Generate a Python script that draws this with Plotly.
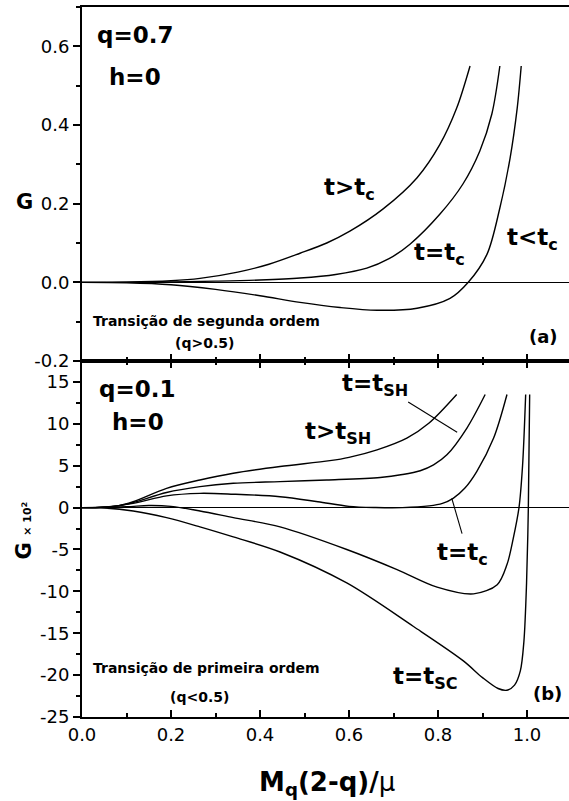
import plotly.graph_objects as go

# ---- panel (a): q = 0.7, h = 0 ----
a_gt_x = [0, 0.1, 0.2, 0.265, 0.35, 0.42, 0.49, 0.55, 0.602, 0.676, 0.753, 0.804, 0.842, 0.872]
a_gt_y = [0, 0.0005, 0.004, 0.01, 0.026, 0.046, 0.074, 0.1, 0.13, 0.186, 0.266, 0.35, 0.443, 0.55]

a_eq_x = [0, 0.2, 0.3, 0.4, 0.49, 0.57, 0.64, 0.69, 0.737, 0.804, 0.856, 0.894, 0.921, 0.939]
a_eq_y = [0, 0.001, 0.003, 0.006, 0.011, 0.02, 0.036, 0.06, 0.097, 0.173, 0.25, 0.334, 0.428, 0.55]

a_lt_x = [0, 0.1, 0.2, 0.3, 0.4, 0.49, 0.58, 0.663, 0.753, 0.827, 0.868, 0.91, 0.939, 0.962, 0.978, 0.987]
a_lt_y = [0, -0.001, -0.006, -0.018, -0.034, -0.051, -0.064, -0.071, -0.066, -0.041, 0, 0.071, 0.189, 0.316, 0.443, 0.55]

# ---- panel (b): q = 0.1, h = 0 (G x 10^2) ----
b_gt_sh_x = [0, 0.03, 0.08, 0.115, 0.19, 0.265, 0.34, 0.445, 0.557, 0.6, 0.663, 0.73, 0.78, 0.842]
b_gt_sh_y = [0, 0, 0.2, 0.7, 2.3, 3.3, 4.1, 4.9, 5.6, 6.0, 6.9, 8.3, 10.1, 13.5]

b_eq_sh_x = [0, 0.03, 0.08, 0.115, 0.19, 0.265, 0.34, 0.445, 0.55, 0.67, 0.72, 0.76, 0.79, 0.82, 0.865, 0.906]
b_eq_sh_y = [0, 0, 0.2, 0.6, 1.8, 2.5, 2.9, 3.1, 3.3, 3.6, 3.95, 4.4, 5.1, 6.3, 9.5, 13.5]

b_eq_c_x = [0, 0.05, 0.115, 0.19, 0.265, 0.34, 0.445, 0.53, 0.6, 0.66, 0.72, 0.78, 0.81, 0.834, 0.86, 0.887, 0.925, 0.955]
b_eq_c_y = [0, 0.05, 0.5, 1.4, 1.7, 1.6, 1.3, 0.7, 0.15, 0.01, 0.0, 0.2, 0.5, 1.1, 2.3, 4.3, 8.3, 13.5]

b_lt_c_x = [0, 0.1, 0.15, 0.2, 0.265, 0.34, 0.445, 0.595, 0.708, 0.798, 0.88, 0.933, 0.955, 0.969, 0.982, 0.99, 0.997]
b_lt_c_y = [0, 0.1, 0.25, 0.15, -0.4, -1.2, -2.3, -5.0, -7.4, -9.5, -10.3, -9.2, -6.8, -3.7, 0, 5, 13.5]

b_eq_sc_x = [0, 0.05, 0.115, 0.19, 0.265, 0.34, 0.445, 0.595, 0.745, 0.857, 0.9, 0.935, 0.955, 0.972, 0.985, 0.993, 0.999, 1.003, 1.006]
b_eq_sc_y = [0, -0.05, -0.4, -1.2, -2.3, -3.5, -5.3, -9.0, -14.2, -18.3, -20.3, -21.6, -21.8, -21.2, -19.5, -16.0, -9.0, 0.0, 13.5]

# pointer lines tying labels to their curves in panel (b)
ptr_sh_x = [0.733, 0.843]
ptr_sh_y = [12.6, 9.0]
ptr_c_x = [0.854, 0.831]
ptr_c_y = [-3.1, 1.1]

# tick labels
x_ticks = [0.0, 0.2, 0.4, 0.6, 0.8, 1.0]
x_ticktext = ["0.0", "0.2", "0.4", "0.6", "0.8", "1.0"]
ya_ticks = [-0.2, 0.0, 0.2, 0.4, 0.6]
ya_ticktext = ["-0.2", "0.0", "0.2", "0.4", "0.6"]
yb_ticks = [-25, -20, -15, -10, -5, 0, 5, 10, 15]
yb_ticktext = ["-25", "-20", "-15", "-10", "-5", "0", "5", "10", "15"]

FONT = "DejaVu Sans"
LINE = dict(color="black", width=1.4)

fig = go.Figure()

for xs, ys in [(a_gt_x, a_gt_y), (a_eq_x, a_eq_y), (a_lt_x, a_lt_y)]:
    fig.add_trace(go.Scatter(x=xs, y=ys, mode="lines", line=dict(shape="spline", smoothing=0.9, **LINE),
                             xaxis="x", yaxis="y", showlegend=False, hoverinfo="skip"))

for xs, ys in [(b_gt_sh_x, b_gt_sh_y), (b_eq_sh_x, b_eq_sh_y), (b_eq_c_x, b_eq_c_y),
               (b_lt_c_x, b_lt_c_y), (b_eq_sc_x, b_eq_sc_y)]:
    fig.add_trace(go.Scatter(x=xs, y=ys, mode="lines", line=dict(shape="spline", smoothing=0.9, **LINE),
                             xaxis="x2", yaxis="y2", showlegend=False, hoverinfo="skip"))

for xs, ys in [(ptr_sh_x, ptr_sh_y), (ptr_c_x, ptr_c_y)]:
    fig.add_trace(go.Scatter(x=xs, y=ys, mode="lines", line=dict(color="black", width=1.1),
                             xaxis="x2", yaxis="y2", showlegend=False, hoverinfo="skip"))

XMAX = 487 / 445
split = (717 - 361) / 710

axis_common = dict(showline=True, linecolor="black", linewidth=2, showgrid=False,
                   tickfont=dict(family=FONT, size=18, color="black"), ticklen=7, tickwidth=1.5,
                   tickcolor="black")

fig.update_layout(
    width=569, height=801,
    margin=dict(l=82, r=0, t=7, b=84),
    paper_bgcolor="white", plot_bgcolor="white",
    font=dict(family=FONT, color="black"),
    xaxis=dict(anchor="y", range=[0, XMAX], tickvals=x_ticks, showticklabels=False,
               ticks="inside", mirror=True, zeroline=False,
               minor=dict(dtick=0.1, tick0=0, ticklen=4, ticks="inside", tickcolor="black"),
               **axis_common),
    yaxis=dict(anchor="x", domain=[split, 1], range=[-0.2, 0.7], tickvals=ya_ticks, ticktext=ya_ticktext,
               ticks="outside", zeroline=True, zerolinecolor="black", zerolinewidth=1.4,
               minor=dict(dtick=0.1, tick0=0, ticklen=4, ticks="outside", tickcolor="black"),
               **axis_common),
    xaxis2=dict(anchor="y2", range=[0, XMAX], tickvals=x_ticks, ticktext=x_ticktext,
                ticks="inside", mirror="ticks", zeroline=False,
                minor=dict(dtick=0.1, tick0=0, ticklen=4, ticks="inside", tickcolor="black"),
                **axis_common),
    yaxis2=dict(anchor="x2", domain=[0, split], range=[-25, 17.5], tickvals=yb_ticks, ticktext=yb_ticktext,
                ticks="outside", zeroline=True, zerolinecolor="black", zerolinewidth=1.4,
                minor=dict(dtick=2.5, tick0=0, ticklen=4, ticks="outside", tickcolor="black"),
                **axis_common),
)

def label(text, x, y, size, xref="x", yref="y", **kw):
    fig.add_annotation(text=text, x=x, y=y, xref=xref, yref=yref, showarrow=False,
                       xanchor="center", yanchor="middle",
                       font=dict(family=FONT, size=size, color="black"), **kw)

# panel (a) texts
label("<b>q=0.7</b>", 0.119, 0.629, 23)
label("<b>h=0</b>", 0.119, 0.522, 23)
label("<b>t>t<sub>c</sub></b>", 0.602, 0.237, 23)
label("<b>t=t<sub>c</sub></b>", 0.804, 0.071, 23)
label("<b>t<t<sub>c</sub></b>", 1.013, 0.11, 23)
label("<b>Transição de segunda ordem</b>", 0.279, -0.099, 14)
label("<b>(q>0.5)</b>", 0.276, -0.153, 14)
label("<b>(a)</b>", 1.036, -0.138, 18)

# panel (b) texts
label("<b>q=0.1</b>", 0.124, 14.1, 23, "x2", "y2")
label("<b>h=0</b>", 0.126, 10.2, 23, "x2", "y2")
label("<b>t=t<sub>SH</sub></b>", 0.658, 14.6, 23, "x2", "y2")
label("<b>t>t<sub>SH</sub></b>", 0.575, 8.85, 23, "x2", "y2")
label("<b>t=t<sub>c</sub></b>", 0.856, -5.5, 23, "x2", "y2")
label("<b>t=t<sub>SC</sub></b>", 0.771, -20.3, 23, "x2", "y2")
label("<b>Transição de primeira ordem</b>", 0.279, -19.1, 14, "x2", "y2")
label("<b>(q<0.5)</b>", 0.265, -22.6, 14, "x2", "y2")
label("<b>(b)</b>", 1.047, -22.2, 18, "x2", "y2")

# axis titles
label("<b>G</b>", 0, 0.204, 21, "paper", "y", xshift=-58)
label("<b>G</b> <span style='font-size:11px'><b>× 10<sup>2</sup></b></span>", 0, -2.75, 21,
      "paper", "y2", xshift=-58, textangle=-90)
label("<b>M<sub>q</sub>(2-q)/</b>μ", 0.503, -0.094, 26, "paper", "paper")

fig.write_html("out.html")
